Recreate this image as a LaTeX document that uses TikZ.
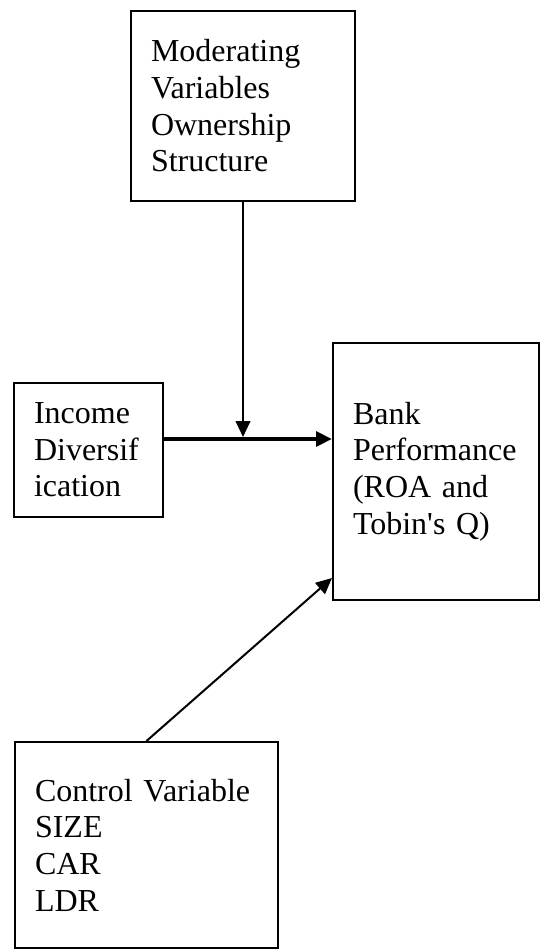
\documentclass[tikz,border=0pt]{standalone}
\usepackage{fontspec}
\setmainfont{Liberation Serif}
\usetikzlibrary{arrows.meta}
\hyphenpenalty=10000

\begin{document}
\begin{tikzpicture}[x=0.75pt,y=-0.75pt,
  every node/.style={font=\fontsize{24}{27.5}\selectfont},
  varbox/.style={draw,line width=1.5pt,rectangle,align=left,inner xsep=15pt,inner ysep=0pt},
  link/.style={line width=1.5pt,-{Triangle[length=12pt,width=11pt]}}]
  \useasboundingbox (0,0) rectangle (541,949);

  \node[varbox,text width=138pt,minimum height=142.5pt] (moder) at (243,106)
    {Moderating\\Variables\\Ownership\\Structure};
  \node[varbox,text width=81.75pt,minimum height=100.5pt] (income) at (88.5,450)
    {Income\\Diversif\\ication};
  \node[varbox,text width=124.5pt,minimum height=192.75pt] (bank) at (436,471.5)
    {Bank\\Performance\\(ROA and\\Tobin\textquotesingle s Q)};
  \node[varbox,text width=167.25pt,minimum height=154.5pt] (control) at (146.5,845)
    {Control Variable\\SIZE\\CAR\\LDR};

  \coordinate (meet) at (243,439);
  \draw[link,line width=3pt] (income.east |- meet) -- (bank.west |- meet);
  \draw[link,shorten >=1.5pt] (moder.south) -- (meet);
  \draw[link] (control.north) -- ([yshift=17.25pt]bank.south west);
\end{tikzpicture}
\end{document}
